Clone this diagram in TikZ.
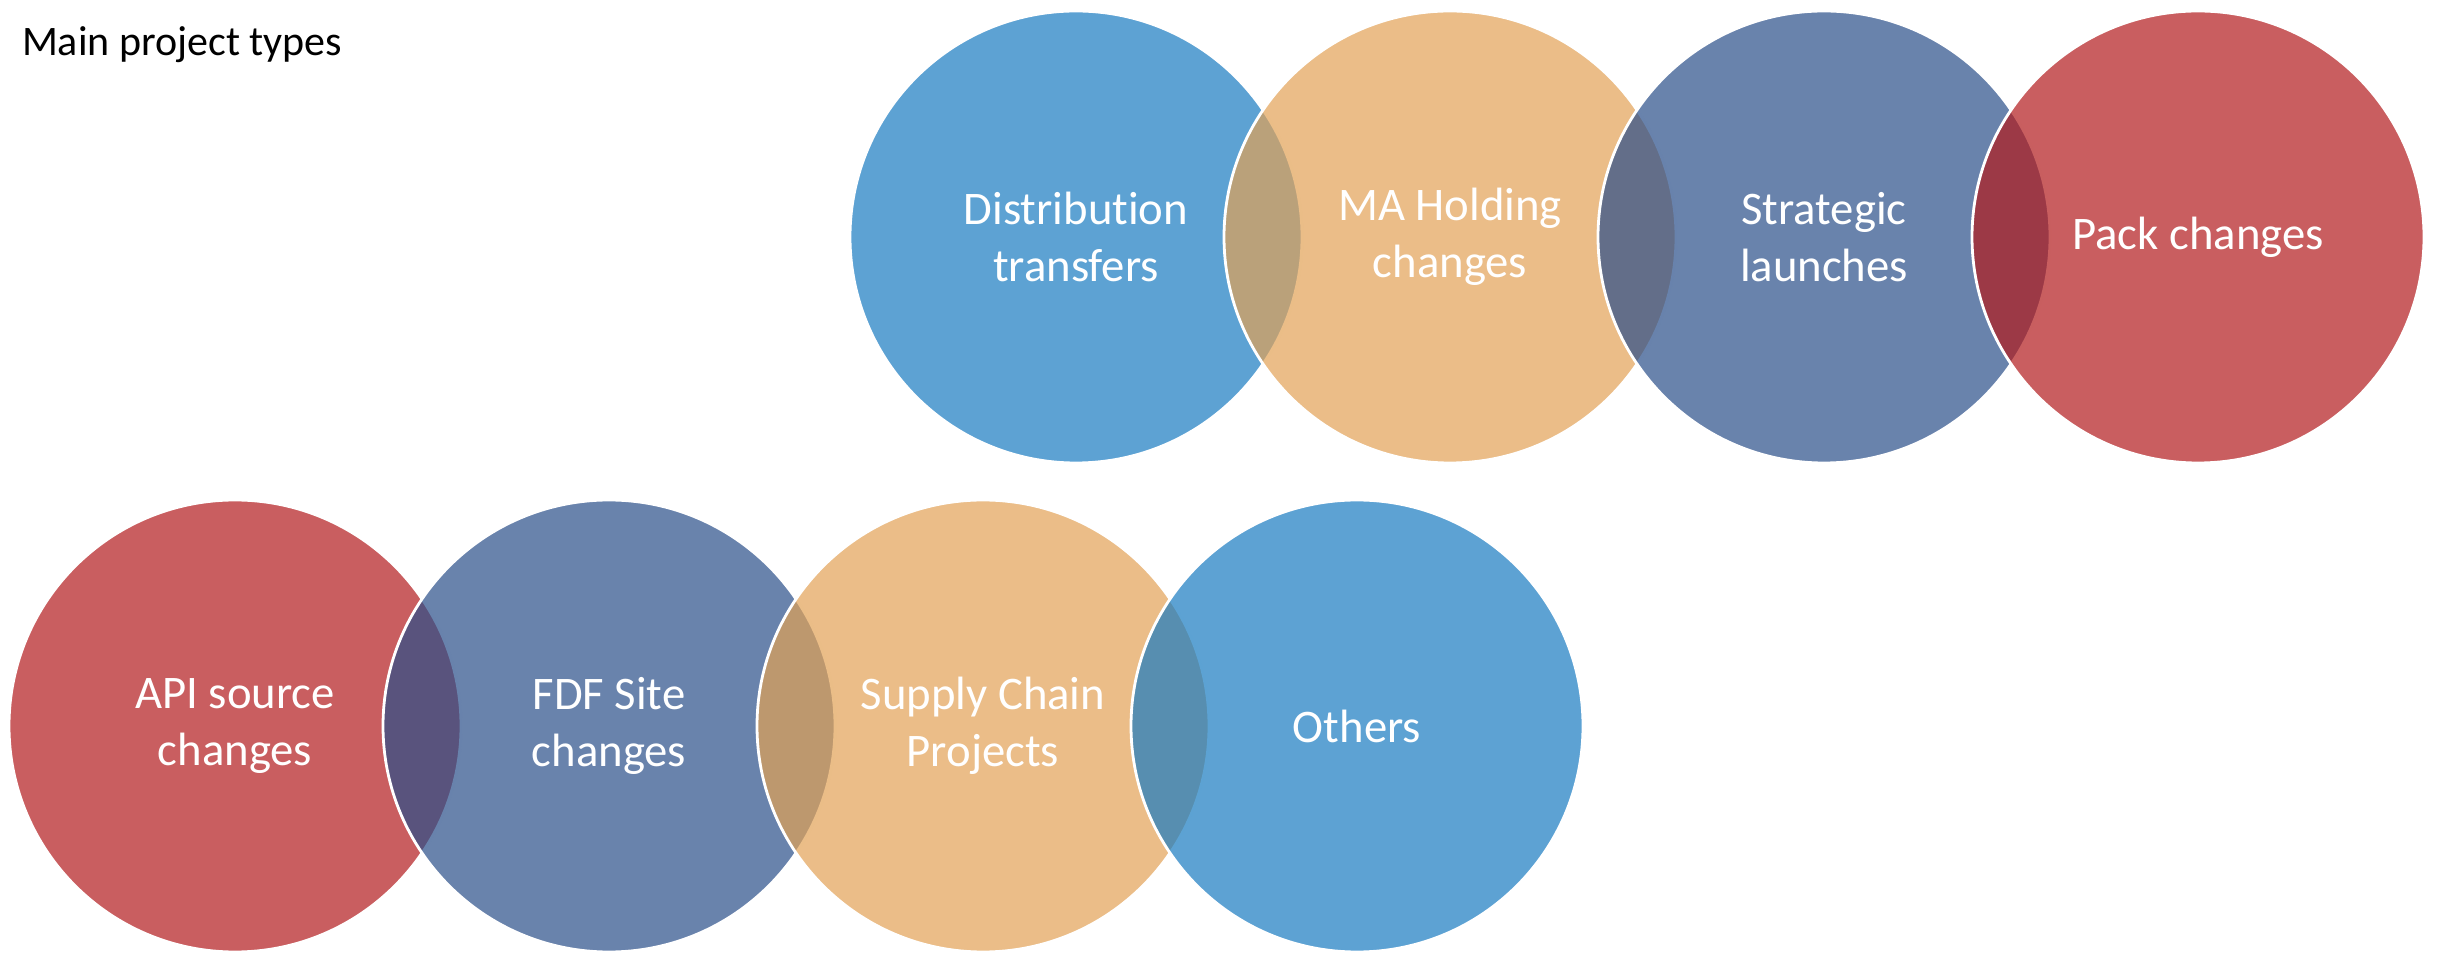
\documentclass[tikz,border=0pt]{standalone}
\usepackage{fontspec}
\setmainfont{Carlito}[Ligatures=NoCommon]
\definecolor{vennblue}{RGB}{24,123,193}
\definecolor{vennorange}{RGB}{226,161,85}
\definecolor{vennslate}{RGB}{41,78,137}
\definecolor{vennred}{RGB}{178,26,28}
\begin{document}
\begin{tikzpicture}[x=0.5pt, y=0.5pt,
    venn/.style={circle, inner sep=0pt, minimum size=226pt, draw=white, line width=1.4pt,
      fill opacity=0.7, draw opacity=1, text opacity=1, text=white, align=center,
      font=\fontsize{23.35}{28.5}\selectfont}]
      \useasboundingbox (0,0) rectangle (2441,953);

      \node[anchor=base west, font=\fontsize{21}{25}\selectfont] (title) at (15,897) {Main project types};

      \node[venn, fill=vennblue] (dist) at (1076,716) {Distribution\\transfers};
      \node[venn, fill=vennorange] (maho) at (1450,716) {MA Holding\\changes};
      \node[venn, fill=vennslate] (strat) at (1824,716) {Strategic\\launches};
      \node[venn, fill=vennred] (pack) at (2198,716) {Pack changes};

      \node[venn, fill=vennred] (api) at (235,227) {API source\\changes};
      \node[venn, fill=vennslate] (fdf) at (609,227) {FDF Site\\changes};
      \node[venn, fill=vennorange] (supply) at (983,227) {Supply Chain\\Projects};
      \node[venn, fill=vennblue] (others) at (1357,227) {Others};
    \end{tikzpicture}
\end{document}
